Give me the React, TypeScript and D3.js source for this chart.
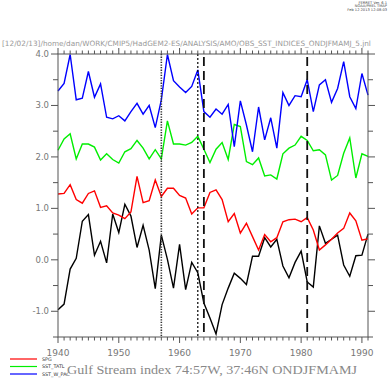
import React from "react";
import * as d3 from "d3";

const W = 389;
const H = 378;

const years = d3.range(1940, 1992);

const gulfStream = [
  -0.97, -0.86, -0.18, 0.03, 0.75, 0.88, 0.09, 0.36, -0.06, 0.89,
  0.53, 1.08, 0.85, 0.24, 0.67, 0.19, -0.56, 0.48, 0.01, -0.55,
  0.30, -0.58, -0.05, -0.25, -0.84, -1.13, -1.44, -0.87, -0.55, -0.26,
  -0.36, -0.48, 0.07, 0.07, 0.43, 0.25, 0.40, -0.12, -0.35, -0.05,
  0.17, -0.43, -0.53, 0.66, 0.32, 0.40, 0.48, -0.10, -0.32, 0.08,
  0.09, 0.50,
];

const spg = [
  1.28, 1.29, 1.46, 1.17, 1.10, 1.29, 1.34, 1.02, 1.05, 0.91,
  0.87, 0.80, 0.93, 1.62, 1.11, 1.15, 1.55, 1.23, 1.39, 1.39,
  1.25, 1.20, 0.89, 1.01, 1.01, 1.31, 1.36, 1.17, 0.74, 0.90,
  0.52, 0.71, 0.45, 0.19, 0.49, 0.35, 0.43, 0.74, 0.78, 0.79,
  0.74, 0.82, 0.58, 0.19, 0.29, 0.40, 0.52, 0.61, 0.91, 0.76,
  0.38, 0.41,
];

const sstTatl = [
  2.13, 2.35, 2.45, 1.96, 2.25, 2.25, 2.19, 1.94, 2.06, 1.95,
  1.88, 2.10, 2.16, 2.32, 2.17, 1.96, 2.14, 1.96, 2.70, 2.25,
  2.25, 2.23, 2.28, 2.40, 2.15, 1.89, 2.15, 2.28, 1.95, 2.63,
  2.59, 1.91, 1.85, 1.98, 1.63, 1.65, 1.57, 2.06, 2.17, 2.23,
  2.40, 2.32, 2.12, 2.14, 2.04, 1.55, 1.64, 2.07, 2.37, 1.59,
  2.06, 2.01,
];

const sstWPac = [
  3.28, 3.43, 3.99, 3.11, 3.14, 3.66, 3.16, 3.42, 2.77, 2.74,
  2.80, 2.70, 2.88, 3.04, 2.83, 3.00, 2.57, 3.11, 3.99, 3.48,
  3.36, 3.25, 3.37, 3.69, 2.88, 2.77, 2.93, 2.83, 3.02, 2.20,
  3.09, 2.62, 2.10, 2.97, 2.33, 2.76, 2.17, 3.25, 3.00, 3.19,
  3.17, 3.50, 2.88, 3.40, 3.50, 3.06, 3.33, 3.85, 3.17, 2.94,
  3.62, 3.20,
];

const seriesNames = ["SPG", "SST_TATL", "SST_W_PAC"];
const seriesColors = ["#ff0000", "#00ee00", "#0000ff"];

const yLabels = [-1, 0, 1, 2, 3, 4];
const xLabels = [1940, 1950, 1960, 1970, 1980, 1990];
const dottedYears = [1957, 1963];
const dashedYears = [1964, 1981];

const headerText =
  "[12/02/13]/home/dan/WORK/CMIP5/HadGEM2-ES/ANALYSIS/AMO/OBS_SST_INDICES_ONDJFMAMJ_5.jnl";
const subtitle = "Gulf Stream index 74:57W, 37:46N ONDJFMAMJ";
const stamp = ["FERRET Ver. 6.1", "NOAA/PMEL TMAP", "Feb 12 2013 12:08:03"];

const L = 58, R = 368, T = 54, B = 337;

export default function App() {
  const x = d3.scaleLinear().domain([1940, 1991]).range([L, R]);
  const y = d3.scaleLinear().domain([-1.5, 4]).range([B, T]);
  const line = d3
    .line<number>()
    .x((_, i) => x(years[i]))
    .y((d) => y(d));

  const axisColor = "#555";
  const labelColor = "#777";
  const font = "'DejaVu Sans', sans-serif";

  const yMinor = d3.range(-1.5, 4.01, 0.5);
  const xMinor = d3.range(1940, 1992, 1);

  const all = [
    { data: gulfStream, color: "#000" },
    { data: spg, color: seriesColors[0] },
    { data: sstTatl, color: seriesColors[1] },
    { data: sstWPac, color: seriesColors[2] },
  ];

  return (
    <svg
      width={W}
      height={H}
      style={{ position: "absolute", left: 0, top: 0, background: "#fff" }}
    >
      {stamp.map((s, i) => (
        <text
          key={s}
          x={387}
          y={3.6 + i * 3.7}
          fontSize={3.6}
          fontFamily={font}
          textAnchor="end"
          fill="#444"
        >
          {s}
        </text>
      ))}
      <text
        x={2}
        y={46}
        fontSize={7.3}
        fontFamily={font}
        fill="#999"
      >
        {headerText}
      </text>

      {/* series */}
      {all.map((s, i) => (
        <path
          key={i}
          d={line(s.data) || ""}
          fill="none"
          stroke={s.color}
          strokeWidth={1.4}
          strokeLinejoin="miter"
        />
      ))}

      {/* vertical markers */}
      {dottedYears.map((yr, i) => (
        <line
          key={"d" + yr}
          x1={x(yr)}
          x2={x(yr)}
          y1={T}
          y2={B}
          stroke={i === 0 ? "#333" : "#000"}
          strokeWidth={i === 0 ? 1.6 : 1.2}
          strokeDasharray={i === 0 ? "1.3,1.3" : "2,2"}
        />
      ))}
      {dashedYears.map((yr) => (
        <line
          key={"D" + yr}
          x1={x(yr)}
          x2={x(yr)}
          y1={T + 3}
          y2={B}
          stroke="#111"
          strokeWidth={1.8}
          strokeDasharray="9,5"
        />
      ))}

      {/* frame */}
      <rect
        x={L}
        y={T}
        width={R - L}
        height={B - T}
        fill="none"
        stroke={axisColor}
        strokeWidth={1}
      />

      {/* y ticks */}
      {yMinor.map((v) => {
        const major = Math.abs(v - Math.round(v)) < 1e-6;
        return (
          <g key={"y" + v}>
            <line x1={L - (major ? 7 : 5)} x2={L} y1={y(v)} y2={y(v)} stroke={axisColor} />
            <line x1={R} x2={R + (major ? 7 : 5)} y1={y(v)} y2={y(v)} stroke={axisColor} />
          </g>
        );
      })}
      {yLabels.map((v) => (
        <text
          key={"yl" + v}
          x={49}
          y={y(v) + 3}
          fontSize={8.5}
          fontFamily={font}
          fill={labelColor}
          textAnchor="end"
        >
          {v.toFixed(1)}
        </text>
      ))}

      {/* x ticks */}
      {xMinor.map((v) => {
        const major = v % 10 === 0;
        const len = major ? 6 : 3.5;
        return (
          <g key={"x" + v}>
            <line x1={x(v)} x2={x(v)} y1={B} y2={B + len} stroke={axisColor} />
            <line x1={x(v)} x2={x(v)} y1={T} y2={T - len} stroke={axisColor} />
          </g>
        );
      })}
      {xLabels.map((v) => (
        <text
          key={"xl" + v}
          x={x(v)}
          y={356}
          fontSize={9}
          fontFamily={font}
          fill={labelColor}
          textAnchor="middle"
        >
          {v}
        </text>
      ))}

      {/* legend */}
      {seriesNames.map((n, i) => (
        <g key={n}>
          <line
            x1={10}
            x2={37}
            y1={359 + i * 7.5}
            y2={359 + i * 7.5}
            stroke={seriesColors[i]}
            strokeWidth={1.2}
          />
          <text
            x={42}
            y={360.8 + i * 7.5}
            fontSize={4.8}
            fontFamily={font}
            fill="#333"
          >
            {n}
          </text>
        </g>
      ))}

      <text
        x={67}
        y={374}
        fontSize={12}
        fontFamily="'Liberation Serif', serif"
        fill="#888"
        textLength={290}
        lengthAdjust="spacingAndGlyphs"
      >
        {subtitle}
      </text>
    </svg>
  );
}
